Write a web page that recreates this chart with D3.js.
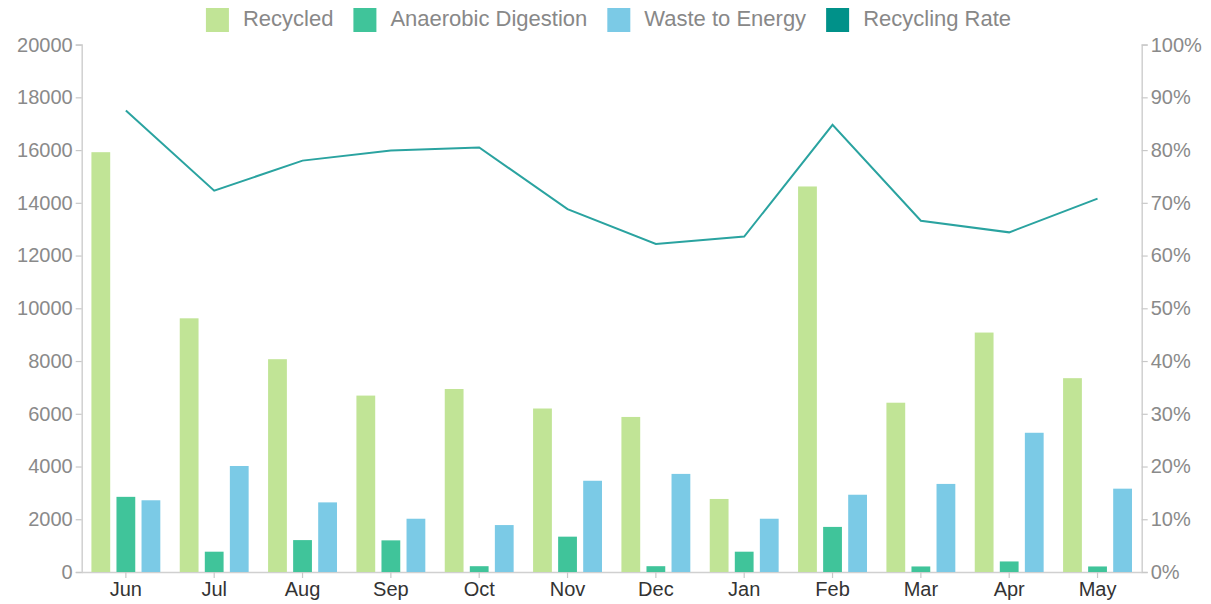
<!DOCTYPE html>
<html>
<head>
<meta charset="utf-8">
<script src="https://cdn.jsdelivr.net/npm/d3@7"></script>
<style>
  body { margin: 0; background: #fff; }
  svg text { font-family: "Liberation Sans", Arial, Helvetica, sans-serif; }
</style>
</head>
<body>
<div id="chart"></div>
<script>
// Data
var months = ["Jun", "Jul", "Aug", "Sep", "Oct", "Nov", "Dec", "Jan", "Feb", "Mar", "Apr", "May"];
var recycled = [15920, 9620, 8070, 6690, 6940, 6200, 5880, 2770, 14620, 6420, 9080, 7350];
var anaerobic = [2850, 770, 1210, 1200, 220, 1340, 220, 770, 1710, 210, 400, 210];
var wasteToEnergy = [2720, 4020, 2640, 2020, 1780, 3460, 3720, 2020, 2930, 3340, 5280, 3160];
var recyclingRate = [0.875, 0.723, 0.780, 0.799, 0.805, 0.688, 0.622, 0.636, 0.848, 0.666, 0.644, 0.708];
var leftTicks = [0, 2000, 4000, 6000, 8000, 10000, 12000, 14000, 16000, 18000, 20000];
var rightTicks = [0, 0.1, 0.2, 0.3, 0.4, 0.5, 0.6, 0.7, 0.8, 0.9, 1];

var seriesNames = ["Recycled", "Anaerobic Digestion", "Waste to Energy", "Recycling Rate"];
var colors = ["#c1e496", "#40c49a", "#7bcae6", "#009189"];

var width = 1211, height = 604;
var margin = { top: 44.6, right: 69.3, bottom: 32, left: 81.7 };

var svg = d3.select("#chart").append("svg")
  .attr("width", width)
  .attr("height", height);

// scales
var x = d3.scaleBand()
  .domain(months)
  .range([margin.left, width - margin.right])
  .paddingInner(0.22)
  .paddingOuter(0.11);

var barKeys = ["recycled", "anaerobic", "waste"];
var xInner = d3.scaleBand()
  .domain(barKeys)
  .range([0, x.bandwidth()])
  .paddingInner(0.25);

var y = d3.scaleLinear().domain([0, 20000]).range([height - margin.bottom, margin.top]);
var yRate = d3.scaleLinear().domain([0, 1]).range([height - margin.bottom, margin.top]);

var rows = months.map(function (m, i) {
  return { month: m, recycled: recycled[i], anaerobic: anaerobic[i], waste: wasteToEnergy[i], rate: recyclingRate[i] };
});

// axes
var leftAxis = svg.append("g")
  .attr("transform", "translate(" + margin.left + ",0)")
  .call(d3.axisLeft(y).tickValues(leftTicks).tickFormat(d3.format("d")).tickSize(6).tickPadding(3));

var rightAxis = svg.append("g")
  .attr("transform", "translate(" + (width - margin.right) + ",0)")
  .call(d3.axisRight(yRate).tickValues(rightTicks).tickFormat(d3.format(".0%")).tickSize(6).tickPadding(3));

var bottomAxis = svg.append("g")
  .attr("transform", "translate(0," + (height - margin.bottom) + ")")
  .call(d3.axisBottom(x).tickSize(6).tickPadding(4).tickSizeOuter(0));

[leftAxis, rightAxis, bottomAxis].forEach(function (g) {
  g.select(".domain").attr("stroke", "#d0d0d0").attr("stroke-width", 1.5);
  g.selectAll(".tick line").attr("stroke", "#c8c8c8").attr("stroke-width", 1.2);
  g.selectAll(".tick text").attr("font-size", "20px").attr("fill", "#8a8a8a");
});
bottomAxis.selectAll(".tick text").attr("fill", "#333").attr("font-size", "20px");

// bars
var groups = svg.append("g")
  .selectAll("g")
  .data(rows)
  .enter()
  .append("g")
  .attr("transform", function (d) { return "translate(" + x(d.month) + ",0)"; });

groups.selectAll("rect")
  .data(function (d) {
    return barKeys.map(function (k, i) { return { key: k, value: d[k], color: colors[i] }; });
  })
  .enter()
  .append("rect")
  .attr("x", function (d) { return xInner(d.key); })
  .attr("y", function (d) { return y(d.value); })
  .attr("width", xInner.bandwidth())
  .attr("height", function (d) { return y(0) - y(d.value); })
  .attr("fill", function (d) { return d.color; });

// recycling rate line
var line = d3.line()
  .x(function (d) { return x(d.month) + x.bandwidth() / 2; })
  .y(function (d) { return yRate(d.rate); });

svg.append("path")
  .datum(rows)
  .attr("d", line)
  .attr("fill", "none")
  .attr("stroke", "#2aa3a0")
  .attr("stroke-width", 2);

// legend, centered on top
var legend = svg.append("g");
var items = legend.selectAll("g")
  .data(seriesNames)
  .enter()
  .append("g");

items.append("rect")
  .attr("width", 23)
  .attr("height", 24)
  .attr("y", 8)
  .attr("fill", function (d, i) { return colors[i]; });

items.append("text")
  .attr("x", 37)
  .attr("y", 26)
  .attr("font-size", "22px")
  .attr("fill", "#888")
  .text(function (d) { return d; });

var offset = 0;
items.each(function () {
  var g = d3.select(this);
  g.attr("transform", "translate(" + offset + ",0)");
  offset += 37 + g.select("text").node().getComputedTextLength() + 20;
});
var legendWidth = offset - 20;
legend.attr("transform", "translate(" + ((width - legendWidth) / 2 + 3) + ",0)");
</script>
</body>
</html>
